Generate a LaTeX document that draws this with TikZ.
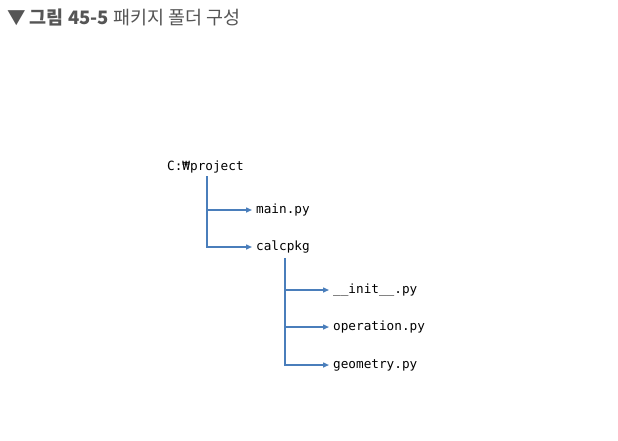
\documentclass[tikz,border=0pt]{standalone}
\usepackage{fontspec}
\setmainfont{Noto Sans CJK KR}
\newfontfamily\monofnt{DejaVu Sans Mono}
\usetikzlibrary{arrows.meta}
\definecolor{titlegray}{HTML}{555555}
\definecolor{linkblue}{HTML}{4A7EBB}
\begin{document}
\begin{tikzpicture}[x=1pt,y=-1pt,
  fileitem/.style={anchor=west,inner xsep=4pt,inner ysep=0pt,font=\monofnt\fontsize{12.7}{14}\selectfont,text=black},
  branch/.style={draw=linkblue,line width=1.4pt,-{Triangle[length=6pt,width=5pt]}},
  trunk/.style={draw=linkblue,line width=1.4pt}]
\useasboundingbox (0,0) rectangle (618,440);
\node[anchor=west,inner sep=0pt,text=titlegray,font=\fontsize{18.5}{21}\selectfont] (title) at (7,17)
  {\textbf{▼ 그림 45-5} 패키지 폴더 구성};
\node[fileitem,inner xsep=0pt] (root) at (167,167) {C:₩project};
\node[fileitem] (main) at (252,210) {main.py};
\node[fileitem] (calc) at (252,247) {calcpkg};
\node[fileitem] (init) at (329,290) {\_\_init\_\_.py};
\node[fileitem] (oper) at (329,327) {operation.py};
\node[fileitem] (geom) at (329,365) {geometry.py};
\coordinate (t1) at (207,176);
\coordinate (t2) at (285,258);
\draw[branch] (t1) |- (main.west);
\draw[branch] (t1) |- (calc.west);
\draw[branch] (t2) |- (init.west);
\draw[branch] (t2) |- (oper.west);
\draw[branch] (t2) |- (geom.west);
\end{tikzpicture}
\end{document}
